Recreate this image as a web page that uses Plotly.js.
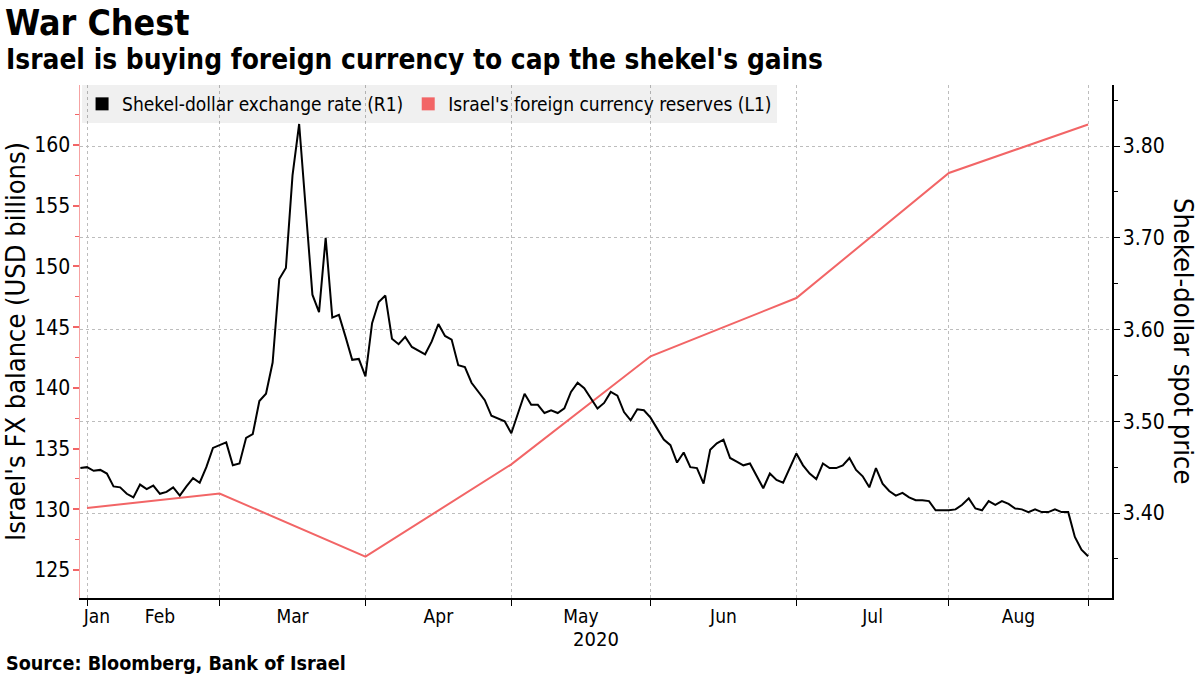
<!DOCTYPE html>
<html>
<head>
<meta charset="utf-8">
<script src="https://cdn.plot.ly/plotly-3.0.1.min.js"></script>
<style>
  html, body { margin: 0; padding: 0; background: #ffffff; }
  #chart { width: 1200px; height: 675px; }
</style>
</head>
<body>
<div id="chart"></div>
<script>
// ---- Shekel-dollar spot rate (right axis, R1), daily business days ----
var shekelDates = [
  '2020-01-30','2020-01-31',
  '2020-02-03','2020-02-04','2020-02-05','2020-02-06','2020-02-07',
  '2020-02-10','2020-02-11','2020-02-12','2020-02-13','2020-02-14',
  '2020-02-17','2020-02-18','2020-02-19','2020-02-20','2020-02-21',
  '2020-02-24','2020-02-25','2020-02-26','2020-02-27','2020-02-28',
  '2020-03-02','2020-03-03','2020-03-04','2020-03-05','2020-03-06',
  '2020-03-09','2020-03-10','2020-03-11','2020-03-12','2020-03-13',
  '2020-03-16','2020-03-17','2020-03-18','2020-03-19','2020-03-20',
  '2020-03-23','2020-03-24','2020-03-25','2020-03-26','2020-03-27',
  '2020-03-30','2020-03-31',
  '2020-04-01','2020-04-02','2020-04-03',
  '2020-04-06','2020-04-07','2020-04-08','2020-04-09','2020-04-10',
  '2020-04-13','2020-04-14','2020-04-15','2020-04-16','2020-04-17',
  '2020-04-20','2020-04-21','2020-04-22','2020-04-23','2020-04-24',
  '2020-04-27','2020-04-28','2020-04-29','2020-04-30',
  '2020-05-01',
  '2020-05-04','2020-05-05','2020-05-06','2020-05-07','2020-05-08',
  '2020-05-11','2020-05-12','2020-05-13','2020-05-14','2020-05-15',
  '2020-05-18','2020-05-19','2020-05-20','2020-05-21','2020-05-22',
  '2020-05-25','2020-05-26','2020-05-27','2020-05-28','2020-05-29',
  '2020-06-01','2020-06-02','2020-06-03','2020-06-04','2020-06-05',
  '2020-06-08','2020-06-09','2020-06-10','2020-06-11','2020-06-12',
  '2020-06-15','2020-06-16','2020-06-17','2020-06-18','2020-06-19',
  '2020-06-22','2020-06-23','2020-06-24','2020-06-25','2020-06-26',
  '2020-06-29','2020-06-30',
  '2020-07-01','2020-07-02','2020-07-03',
  '2020-07-06','2020-07-07','2020-07-08','2020-07-09','2020-07-10',
  '2020-07-13','2020-07-14','2020-07-15','2020-07-16','2020-07-17',
  '2020-07-20','2020-07-21','2020-07-22','2020-07-23','2020-07-24',
  '2020-07-27','2020-07-28','2020-07-29','2020-07-30','2020-07-31',
  '2020-08-03','2020-08-04','2020-08-05','2020-08-06','2020-08-07',
  '2020-08-10','2020-08-11','2020-08-12','2020-08-13','2020-08-14',
  '2020-08-17','2020-08-18','2020-08-19','2020-08-20','2020-08-21',
  '2020-08-24','2020-08-25','2020-08-26','2020-08-27','2020-08-28',
  '2020-08-31'
];
var shekelRate = [
  3.449, 3.450,
  3.446, 3.447, 3.443, 3.429, 3.428,
  3.421, 3.417, 3.431, 3.426, 3.430,
  3.421, 3.423, 3.428, 3.419, 3.429,
  3.438, 3.433, 3.450, 3.471, 3.474,
  3.477, 3.452, 3.454, 3.482, 3.486,
  3.522, 3.530, 3.564, 3.655, 3.667,
  3.768, 3.824, 3.730, 3.638, 3.619,
  3.700, 3.613, 3.616, 3.592, 3.567,
  3.568, 3.549,
  3.607, 3.630, 3.637,
  3.590, 3.584, 3.592, 3.581, 3.577,
  3.573, 3.587, 3.606, 3.593, 3.589,
  3.561, 3.559, 3.542, 3.532, 3.523,
  3.506, 3.503, 3.500, 3.487,
  3.509,
  3.530, 3.518, 3.518, 3.509, 3.512,
  3.509, 3.514, 3.532, 3.542, 3.536,
  3.525, 3.514, 3.520, 3.532, 3.528,
  3.510, 3.501, 3.513, 3.512, 3.504,
  3.492, 3.480, 3.474, 3.455, 3.466,
  3.450, 3.449, 3.432, 3.469, 3.476,
  3.480, 3.460, 3.456, 3.452, 3.454,
  3.440, 3.427, 3.443, 3.436, 3.433,
  3.450, 3.465,
  3.452, 3.443, 3.437,
  3.454, 3.449, 3.449, 3.452, 3.460,
  3.447, 3.440, 3.428, 3.449, 3.432,
  3.424, 3.419, 3.422, 3.417, 3.414,
  3.414, 3.413, 3.403, 3.403, 3.403,
  3.404, 3.409, 3.416, 3.405, 3.403,
  3.413, 3.409, 3.413, 3.410, 3.405,
  3.404, 3.401, 3.404, 3.401, 3.401,
  3.404, 3.401, 3.401, 3.374, 3.360,
  3.353
];

// ---- Israel's foreign currency reserves (left axis, L1), USD billions, month end ----
var reserveDates = ['2020-01-31','2020-02-28','2020-03-31','2020-04-30','2020-05-29','2020-06-30','2020-07-31','2020-08-31'];
var reserveValues = [130.1, 131.3, 126.1, 133.7, 142.6, 147.4, 157.7, 161.7];

// ---- x-axis tick labels (month names) and month-end grid positions ----
var monthLabels = ['Jan','Feb','Mar','Apr','May','Jun','Jul','Aug'];
var monthLabelDates = ['2020-02-03 12:00','2020-02-17','2020-03-16','2020-04-15','2020-05-14 12:00','2020-06-15','2020-07-15 12:00','2020-08-14 12:00'];
var monthEndDates = ['2020-01-31','2020-02-28','2020-03-31','2020-04-30','2020-05-29','2020-06-30','2020-07-31','2020-08-31'];

var seriesNames = ["Shekel-dollar exchange rate (R1)", "Israel's foreign currency reserves (L1)"];

var BLACK = '#000000';
var RED = '#f26566';
var FONT = 'DejaVu Sans Condensed, DejaVu Sans, sans-serif';

var traces = [
  { x: reserveDates, y: reserveValues, yaxis: 'y', type: 'scatter', mode: 'lines',
    line: { color: RED, width: 2 }, showlegend: false, name: seriesNames[1], hoverinfo: 'skip' },
  { x: shekelDates, y: shekelRate, yaxis: 'y2', type: 'scatter', mode: 'lines',
    line: { color: BLACK, width: 2 }, showlegend: false, name: seriesNames[0], hoverinfo: 'skip' },
  // legend entries (square swatches)
  { x: [null], y: [null], yaxis: 'y2', type: 'scatter', mode: 'markers', name: seriesNames[0],
    marker: { symbol: 'square', size: 13, color: BLACK }, showlegend: true },
  { x: [null], y: [null], yaxis: 'y', type: 'scatter', mode: 'markers', name: seriesNames[1],
    marker: { symbol: 'square', size: 13, color: RED }, showlegend: true }
];

var layout = {
  width: 1200, height: 675,
  margin: { l: 80, r: 88, t: 85, b: 77, pad: 0 },
  paper_bgcolor: '#ffffff', plot_bgcolor: '#ffffff',
  font: { family: FONT, color: '#000000', size: 18 },
  title: { text: 'War Chest', font: { family: FONT, size: 35.5, weight: 700, color: '#000' },
           xref: 'container', yref: 'container', x: 5/1200, xanchor: 'left', y: 1 - 23/675, yanchor: 'middle' },
  showlegend: true,
  legend: { orientation: 'h', x: 0.002, xanchor: 'left', y: 1, yanchor: 'top',
            bgcolor: 'rgba(0,0,0,0.06)', borderwidth: 0,
            font: { family: FONT, size: 19, color: '#000' }, traceorder: 'normal',
            itemwidth: 30, tracegroupgap: 0 },
  xaxis: {
    type: 'date',
    range: ['2020-01-29 22:40', '2020-09-03 14:30'],
    rangebreaks: [{ bounds: ['sat', 'mon'] }],
    tickmode: 'array', tickvals: monthLabelDates, ticktext: monthLabels,
    ticks: '', showgrid: false, zeroline: false,
    showline: true, linecolor: '#000', linewidth: 2,
    tickfont: { family: FONT, size: 19, color: '#000' },
    minor: { tickmode: 'array', tickvals: monthEndDates, ticks: 'outside', ticklen: 6, tickwidth: 1,
             tickcolor: '#000', showgrid: true, gridcolor: '#bdbdbd', griddash: 'dot', gridwidth: 1 },
    title: { text: '2020', font: { family: FONT, size: 20, color: '#000' }, standoff: 1 }
  },
  yaxis: {
    range: [122.69, 164.95],
    tickmode: 'linear', tick0: 0, dtick: 5,
    ticks: 'outside', ticklen: 6, tickwidth: 2, tickcolor: RED,
    ticklabelstandoff: -2,
    showline: true, linecolor: '#f6a3a3', linewidth: 1.5,
    showgrid: false, zeroline: false,
    tickfont: { family: FONT, size: 21, color: '#000' },
    minor: { dtick: 2.5, ticks: 'outside', ticklen: 4, tickwidth: 1, tickcolor: RED, showgrid: false },
    title: { text: "Israel's FX balance (USD billions)", font: { family: FONT, size: 27, color: '#000' }, standoff: 8 }
  },
  yaxis2: {
    overlaying: 'y', side: 'right', anchor: 'x',
    range: [3.3074, 3.8665],
    tickmode: 'linear', tick0: 0, dtick: 0.1, tickformat: '.2f',
    ticks: 'outside', ticklen: 6, tickwidth: 1, tickcolor: '#000',
    ticklabelstandoff: -1,
    showline: true, linecolor: '#000', linewidth: 1.5,
    showgrid: true, gridcolor: '#bdbdbd', griddash: 'dot', gridwidth: 1, zeroline: false,
    tickfont: { family: FONT, size: 21, color: '#000' },
    minor: { dtick: 0.05, ticks: 'outside', ticklen: 4, tickwidth: 1, tickcolor: '#000', showgrid: false }
  },
  annotations: [
    { text: "Israel is buying foreign currency to cap the shekel's gains", xref: 'paper', yref: 'paper',
      x: (4 - 80) / 1032, xanchor: 'left', y: (598 - 60) / 513, yanchor: 'middle', showarrow: false,
      font: { family: FONT, size: 27.8, weight: 700, color: '#000' } },
    { text: 'Shekel-dollar spot price', xref: 'paper', yref: 'paper',
      x: (1184 - 80) / 1032, xanchor: 'center', y: (598 - 341) / 513, yanchor: 'middle', showarrow: false,
      textangle: 90, font: { family: FONT, size: 27, color: '#000' } },
    { text: 'Source: Bloomberg, Bank of Israel', xref: 'paper', yref: 'paper',
      x: (4 - 80) / 1032, xanchor: 'left', y: (598 - 663) / 513, yanchor: 'middle', showarrow: false,
      font: { family: FONT, size: 19.6, weight: 700, color: '#000' } }
  ]
};

Plotly.newPlot('chart', traces, layout, { displayModeBar: false, staticPlot: true });
</script>
</body>
</html>
